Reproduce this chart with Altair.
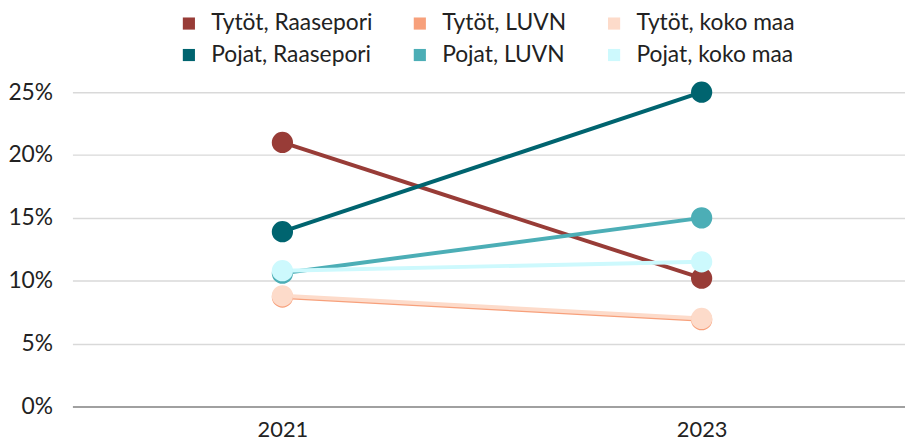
import altair as alt
import pandas as pd

series = ["Tytöt, Raasepori", "Tytöt, LUVN", "Tytöt, koko maa",
          "Pojat, Raasepori", "Pojat, LUVN", "Pojat, koko maa"]
colors = ["#983c37", "#f7a07b", "#fddbca", "#00646f", "#4caeb6", "#cdf9fd"]
years = ["2021", "2023"]
v2021 = [21.0, 8.7, 8.8, 13.9, 10.6, 10.8]
v2023 = [10.2, 6.9, 7.0, 25.0, 15.0, 11.5]
yticks = [0, 5, 10, 15, 20, 25]

rows = []
for i, s in enumerate(series):
    rows.append({"sarja": s, "vuosi": years[0], "arvo": v2021[i], "ord": i})
    rows.append({"sarja": s, "vuosi": years[1], "arvo": v2023[i], "ord": i})
df = pd.DataFrame(rows)

FONT = "Lato"

x = alt.X("vuosi:O", sort=years, title=None,
          scale=alt.Scale(type="point", padding=0.493, align=0.508),
          axis=alt.Axis(labelAngle=0, labelFontSize=22, labelPadding=13,
                        ticks=False, domain=True, domainColor="#8a8a8a",
                        domainWidth=1.5,
                        labelColor="#222222", labelFont=FONT))
y = alt.Y("arvo:Q", title=None,
          scale=alt.Scale(domain=[0, 25], nice=False),
          axis=alt.Axis(values=yticks, labelExpr="datum.value + '%'",
                        labelFontSize=23, labelPadding=20, ticks=False,
                        domain=False, grid=True, gridColor="#d9d9d9",
                        gridWidth=1.5, labelColor="#222222", labelFont=FONT))
color = alt.Color("sarja:N", sort=series, title=None,
                  scale=alt.Scale(domain=series, range=colors),
                  legend=alt.Legend(orient="none", legendX=106, legendY=-81,
                                    columns=3, direction="horizontal",
                                    symbolType="square", symbolSize=150,
                                    symbolStrokeWidth=0, padding=0,
                                    labelFontSize=23, labelFont=FONT,
                                    labelLimit=0,
                                    labelColor="#222222", columnPadding=36,
                                    rowPadding=8, labelOffset=11,
                                    symbolOpacity=1))

base = alt.Chart(df)
lines = base.mark_line(strokeWidth=4).encode(
    x=x, y=y, color=color, detail="sarja:N", order="vuosi:O")
points = base.mark_point(filled=True, size=460, opacity=1).encode(
    x=x, y=y, color=color, order="ord:Q")

chart = alt.layer(lines, points).properties(
    width=840, height=317,
    autosize=alt.AutoSizeParams(type="none"),
    padding={"left": 65, "top": 83, "right": 0, "bottom": 35},
    background="white",
).configure_view(stroke=None)

chart.save("out.html", embed_options={"renderer": "svg", "actions": False})
